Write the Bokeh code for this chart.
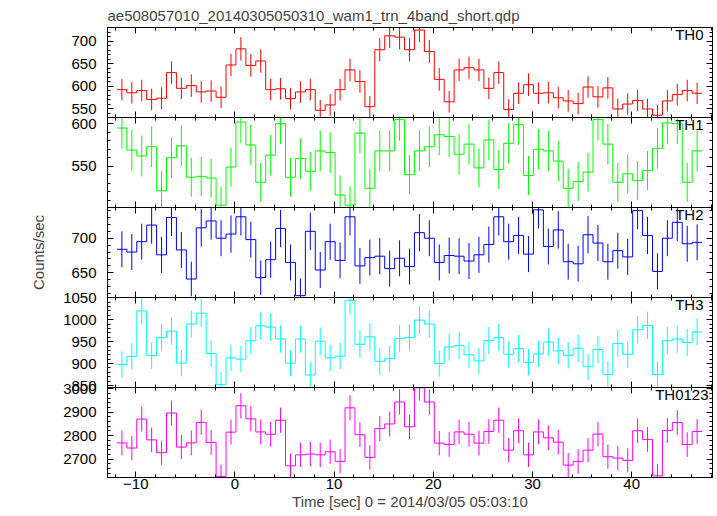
from bokeh.plotting import figure
from bokeh.layouts import column
from bokeh.models import LinearAxis, SingleIntervalTicker, Range1d, Label
from bokeh.embed import file_html
from bokeh.resources import INLINE

TITLE = "ae508057010_20140305050310_wam1_trn_4band_short.qdp"
X_LABEL = "Time [sec] 0 = 2014/03/05 05:03:10"
Y_LABEL = "Counts/sec"

# bin centres (s); each bin is 1 s wide
TIME_SEC = [-11.4, -10.4, -9.4, -8.4, -7.4, -6.4, -5.4, -4.4, -3.4, -2.4,
            -1.4, -0.4, 0.6, 1.6, 2.6, 3.6, 4.6, 5.6, 6.6, 7.6,
            8.6, 9.6, 10.6, 11.6, 12.6, 13.6, 14.6, 15.6, 16.6, 17.6,
            18.6, 19.6, 20.6, 21.6, 22.6, 23.6, 24.6, 25.6, 26.6, 27.6,
            28.6, 29.6, 30.6, 31.6, 32.6, 33.6, 34.6, 35.6, 36.6, 37.6,
            38.6, 39.6, 40.6, 41.6, 42.6, 43.6, 44.6, 45.6, 46.6]
BIN_HALF_WIDTH = 0.5

TH0_RATE = [592, 585, 590, 570, 573, 630, 595, 601, 587, 589,
            575, 647, 683, 646, 656, 592, 594, 572, 587, 592,
            546, 558, 592, 636, 610, 554, 681, 712, 709, 681,
            725, 677, 615, 565, 636, 641, 636, 595, 630, 548,
            584, 603, 584, 585, 574, 567, 561, 598, 576, 596,
            549, 560, 568, 549, 535, 567, 581, 590, 584]
TH0_ERR = [24, 24, 24, 24, 24, 25, 24, 25, 24, 24,
           24, 25, 26, 25, 26, 24, 24, 24, 24, 24,
           23, 24, 24, 25, 25, 24, 26, 27, 27, 26,
           27, 26, 25, 24, 25, 25, 25, 24, 25, 23,
           24, 25, 24, 24, 24, 24, 24, 24, 24, 24,
           23, 24, 24, 23, 23, 24, 24, 24, 24]

TH1_RATE = [595, 569, 562, 573, 521, 560, 574, 537, 538, 536,
            504, 549, 602, 575, 531, 563, 600, 537, 559, 544,
            568, 566, 516, 504, 589, 524, 568, 568, 605, 540,
            568, 573, 587, 585, 564, 576, 548, 581, 546, 577,
            599, 539, 570, 568, 556, 524, 532, 543, 605, 576,
            531, 541, 533, 545, 571, 601, 600, 531, 568]
TH1_ERR = [24, 24, 24, 24, 23, 24, 24, 23, 23, 23,
           22, 23, 25, 24, 23, 24, 24, 23, 24, 23,
           24, 24, 23, 22, 24, 23, 24, 24, 25, 23,
           24, 24, 24, 24, 24, 24, 23, 24, 23, 24,
           24, 23, 24, 24, 24, 23, 23, 23, 25, 24,
           23, 23, 23, 23, 24, 25, 24, 23, 24]

TH2_RATE = [684, 680, 695, 719, 676, 730, 683, 641, 715, 725,
            700, 706, 731, 698, 643, 669, 714, 665, 617, 710,
            654, 695, 668, 731, 660, 672, 674, 656, 671, 659,
            708, 700, 665, 675, 674, 667, 676, 691, 731, 695,
            704, 677, 741, 688, 712, 666, 663, 705, 693, 666,
            682, 673, 740, 704, 652, 700, 723, 692, 694]
TH2_ERR = [26, 26, 26, 27, 26, 27, 26, 25, 27, 27,
           26, 27, 27, 26, 25, 26, 27, 26, 25, 27,
           26, 26, 26, 27, 26, 26, 26, 26, 26, 26,
           27, 26, 26, 26, 26, 26, 26, 26, 27, 26,
           27, 26, 27, 26, 27, 26, 26, 27, 26, 26,
           26, 26, 27, 27, 26, 26, 27, 26, 26]

TH3_RATE = [898, 916, 1020, 918, 959, 974, 901, 990, 1015, 923,
            852, 913, 910, 952, 986, 983, 956, 901, 956, 874,
            951, 913, 917, 1044, 944, 961, 905, 911, 957, 959,
            999, 990, 900, 938, 941, 920, 906, 952, 959, 921,
            934, 903, 922, 949, 929, 919, 935, 893, 932, 875,
            946, 921, 977, 987, 875, 952, 956, 948, 972]
TH3_ERR = [30, 30, 32, 30, 31, 31, 30, 31, 32, 30,
           29, 30, 30, 31, 31, 31, 31, 30, 31, 30,
           31, 30, 30, 32, 31, 31, 30, 30, 31, 31,
           32, 31, 30, 31, 31, 30, 30, 31, 31, 30,
           31, 30, 30, 31, 30, 30, 31, 30, 31, 30,
           31, 30, 31, 31, 30, 31, 31, 31, 31]

TH0123_RATE = [2769, 2747, 2871, 2782, 2727, 2897, 2751, 2769, 2857, 2771,
               2626, 2815, 2928, 2872, 2816, 2806, 2866, 2671, 2718, 2721,
               2718, 2731, 2690, 2919, 2804, 2707, 2830, 2850, 2944, 2838,
               3005, 2944, 2768, 2762, 2816, 2806, 2768, 2818, 2866, 2738,
               2821, 2718, 2816, 2791, 2772, 2674, 2690, 2738, 2807, 2710,
               2704, 2694, 2821, 2784, 2628, 2822, 2856, 2762, 2818]
TH0123_ERR = [53, 52, 54, 53, 52, 54, 52, 53, 53, 53,
              51, 53, 54, 54, 53, 53, 54, 52, 52, 52,
              52, 52, 52, 54, 53, 52, 53, 53, 54, 53,
              55, 54, 53, 53, 53, 53, 53, 53, 54, 52,
              53, 52, 53, 53, 53, 52, 52, 52, 53, 52,
              52, 52, 53, 53, 51, 53, 53, 53, 53]

BAND_NAMES = ["TH0", "TH1", "TH2", "TH3", "TH0123"]
BAND_RATES = [TH0_RATE, TH1_RATE, TH2_RATE, TH3_RATE, TH0123_RATE]
BAND_ERRS = [TH0_ERR, TH1_ERR, TH2_ERR, TH3_ERR, TH0123_ERR]
BAND_COLORS = ["#ff0000", "#00ff00", "#0000ff", "#00ffff", "#ff00ff"]
Y_LIMITS = [(530, 730.5), (501.3, 607.4), (614.3, 744.4), (845.5, 1050.5), (2621, 3006)]
Y_TICK_STEP = [50, 50, 50, 50, 100]
X_LIMITS = (-12.85, 48.15)
X_TICK_STEP = 10

FONT = "Liberation Sans"
FS = "15px"
FRAME_W = 605
FRAME_H = 90
PAD = 10
LABEL_RIGHT_GAP = [9, 9, 9, 9, 4]


def style_axis(ax, show_labels, standoff=0):
    ax.axis_line_color = "black"
    ax.axis_line_width = 1
    ax.major_tick_in = 6
    ax.major_tick_out = 0
    ax.minor_tick_in = 3
    ax.minor_tick_out = 0
    ax.major_tick_line_color = "black"
    ax.minor_tick_line_color = "black"
    if show_labels:
        ax.major_label_text_font = FONT
        ax.major_label_text_font_size = FS
        ax.major_label_text_color = "black"
        ax.major_label_standoff = standoff
    else:
        ax.major_label_text_font_size = "0px"
        ax.major_label_text_color = None
        ax.major_label_standoff = 0


x_range = Range1d(*X_LIMITS)
edges = [t - BIN_HALF_WIDTH for t in TIME_SEC] + [TIME_SEC[-1] + BIN_HALF_WIDTH]

figs = []
n = len(BAND_NAMES)
for i in range(n):
    first = i == 0
    last = i == n - 1
    rates = BAND_RATES[i]
    errs = BAND_ERRS[i]
    color = BAND_COLORS[i]
    p = figure(frame_width=FRAME_W, frame_height=FRAME_H,
               x_range=x_range, y_range=Range1d(*Y_LIMITS[i]),
               output_backend="svg", toolbar_location=None, tools="",
               x_axis_location=None, y_axis_location=None,
               min_border_left=107, min_border_right=2,
               min_border_top=27 if first else PAD,
               min_border_bottom=0 if last else PAD)
    p.background_fill_color = "white"
    p.border_fill_alpha = 0
    p.outline_line_color = "black"
    p.outline_line_width = 1
    if not first:
        p.styles = {"margin-top": "-%dpx" % (2 * PAD)}

    yt = Y_TICK_STEP[i]
    left = LinearAxis(ticker=SingleIntervalTicker(interval=yt, num_minor_ticks=5))
    style_axis(left, True, 11)
    if i == 2:
        left.axis_label = Y_LABEL
        left.axis_label_text_font = FONT
        left.axis_label_text_font_size = FS
        left.axis_label_text_font_style = "normal"
        left.axis_label_standoff = 21
    p.add_layout(left, "left")

    right = LinearAxis(ticker=SingleIntervalTicker(interval=yt, num_minor_ticks=5))
    style_axis(right, False)
    p.add_layout(right, "right")

    below = LinearAxis(ticker=SingleIntervalTicker(interval=X_TICK_STEP, num_minor_ticks=5))
    if last:
        style_axis(below, True, 1)
        below.axis_label = X_LABEL
        below.axis_label_text_font = FONT
        below.axis_label_text_font_size = FS
        below.axis_label_text_font_style = "normal"
        below.axis_label_standoff = 1
    else:
        style_axis(below, False)
    p.add_layout(below, "below")

    above = LinearAxis(ticker=SingleIntervalTicker(interval=X_TICK_STEP, num_minor_ticks=5))
    style_axis(above, False)
    p.add_layout(above, "above")

    p.xgrid.grid_line_color = None
    p.ygrid.grid_line_color = None

    p.step(x=edges, y=rates + [rates[-1]], mode="after",
           line_color=color, line_width=1)
    lower = [r - e for r, e in zip(rates, errs)]
    upper = [r + e for r, e in zip(rates, errs)]
    p.segment(x0=TIME_SEC, y0=lower, x1=TIME_SEC, y1=upper,
              line_color=color, line_width=1)

    p.add_layout(Label(x=FRAME_W - LABEL_RIGHT_GAP[i], y=FRAME_H + 2,
                       x_units="screen", y_units="screen", text=BAND_NAMES[i],
                       text_align="right", text_baseline="top",
                       text_font=FONT, text_font_size=FS, text_color="black"))

    if first:
        p.title.text = TITLE
        p.title.text_font = FONT
        p.title.text_font_size = FS
        p.title.text_font_style = "normal"
        p.title.align = "left"
        p.title.standoff = 8
    figs.append(p)

layout = column(*figs, spacing=0)
open("out.html", "w").write(file_html(layout, INLINE))
